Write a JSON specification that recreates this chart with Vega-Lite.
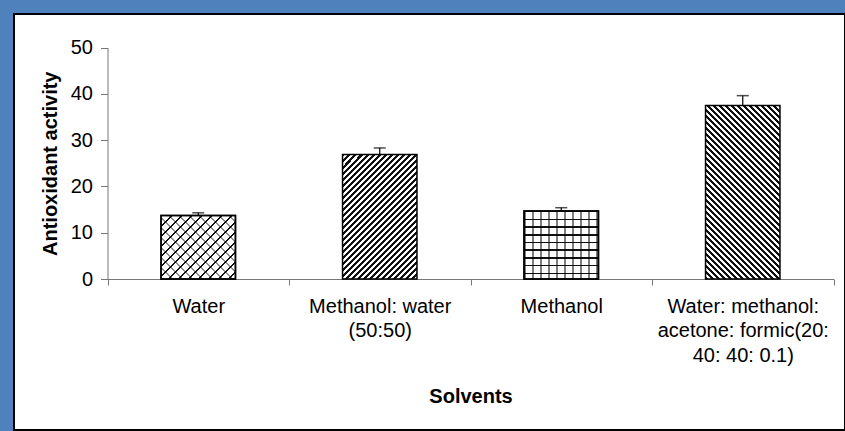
{
"$schema": "https://vega.github.io/schema/vega-lite/v6.json",
"width": 831,
"height": 416,
"autosize": {"type": "none"},
"padding": {"left": 14, "top": 14, "right": 0, "bottom": 1},
"background": "#4F81BD",
"view": {"fill": "white", "stroke": "black", "strokeWidth": 2},
"data": {"values": [
 {"solvent": "Water", "activity": 13.7, "upper": 14.3},
 {"solvent": "Methanol: water (50:50)", "activity": 26.9, "upper": 28.3},
 {"solvent": "Methanol", "activity": 14.7, "upper": 15.4},
 {"solvent": "Water: methanol: acetone: formic(20: 40: 40: 0.1)", "activity": 37.5, "upper": 39.6}
]},
"encoding": {
 "x": {"field": "solvent", "type": "nominal", "sort": null,
  "scale": {"domain": ["Water", "Methanol: water (50:50)", "Methanol", "Water: methanol: acetone: formic(20: 40: 40: 0.1)"], "range": [93.5, 819.5], "paddingInner": 0, "paddingOuter": 0},
  "axis": {"title": "Solvents", "offset": -151, "labelAngle": 0, "labelFont": "Liberation Sans", "labelFontSize": 20, "labelColor": "black", "labelLimit": 0, "labelPadding": 11, "labelLineHeight": 24.5,
   "labelExpr": "datum.value == 'Methanol: water (50:50)' ? ['Methanol: water', '(50:50)'] : (datum.value == 'Water: methanol: acetone: formic(20: 40: 40: 0.1)' ? ['Water: methanol:', 'acetone: formic(20:', '40: 40: 0.1)'] : datum.value)",
   "tickBand": "extent", "tickSize": 6, "tickColor": "#777", "domainColor": "#777", "labelOverlap": false,
   "titleFont": "Liberation Sans", "titleFontSize": 20, "titleFontWeight": "bold", "titleColor": "black", "titlePadding": 21}},
 "y": {"field": "activity", "type": "quantitative",
  "scale": {"domain": [0, 50], "nice": false, "range": [265, 33.5]},
  "axis": {"title": "Antioxidant activity", "offset": -93.5, "values": [0, 10, 20, 30, 40, 50], "grid": false,
   "labelFont": "Liberation Sans", "labelFontSize": 20, "labelColor": "black", "tickColor": "#777", "domainColor": "#777", "tickSize": 7, "labelPadding": 8,
   "titleFont": "Liberation Sans", "titleFontSize": 20, "titleFontWeight": "bold", "titleColor": "black", "titlePadding": 10}}
},
"layer": [
 {"transform": [{"filter": "datum.solvent == 'Water'"}],
  "mark": {"type": "bar", "width": {"band": 0.41}, "stroke": "black", "strokeWidth": 1.5,
   "fill": {"gradient": "linear", "x1": 0, "y1": 0, "x2": 1.2458, "y2": 1.0617, "stops": [
    {"offset":0,"color":"#111"},{"offset":0.0125,"color":"#111"},{"offset":0.0125,"color":"#fff"},{"offset":0.0625,"color":"#fff"},
    {"offset":0.0625,"color":"#111"},{"offset":0.075,"color":"#111"},{"offset":0.075,"color":"#fff"},{"offset":0.125,"color":"#fff"},
    {"offset":0.125,"color":"#111"},{"offset":0.1375,"color":"#111"},{"offset":0.1375,"color":"#fff"},{"offset":0.1875,"color":"#fff"},
    {"offset":0.1875,"color":"#111"},{"offset":0.2,"color":"#111"},{"offset":0.2,"color":"#fff"},{"offset":0.25,"color":"#fff"},
    {"offset":0.25,"color":"#111"},{"offset":0.2625,"color":"#111"},{"offset":0.2625,"color":"#fff"},{"offset":0.3125,"color":"#fff"},
    {"offset":0.3125,"color":"#111"},{"offset":0.325,"color":"#111"},{"offset":0.325,"color":"#fff"},{"offset":0.375,"color":"#fff"},
    {"offset":0.375,"color":"#111"},{"offset":0.3875,"color":"#111"},{"offset":0.3875,"color":"#fff"},{"offset":0.4375,"color":"#fff"},
    {"offset":0.4375,"color":"#111"},{"offset":0.45,"color":"#111"},{"offset":0.45,"color":"#fff"},{"offset":0.5,"color":"#fff"},
    {"offset":0.5,"color":"#111"},{"offset":0.5125,"color":"#111"},{"offset":0.5125,"color":"#fff"},{"offset":0.5625,"color":"#fff"},
    {"offset":0.5625,"color":"#111"},{"offset":0.575,"color":"#111"},{"offset":0.575,"color":"#fff"},{"offset":0.625,"color":"#fff"},
    {"offset":0.625,"color":"#111"},{"offset":0.6375,"color":"#111"},{"offset":0.6375,"color":"#fff"},{"offset":0.6875,"color":"#fff"},
    {"offset":0.6875,"color":"#111"},{"offset":0.7,"color":"#111"},{"offset":0.7,"color":"#fff"},{"offset":0.75,"color":"#fff"},
    {"offset":0.75,"color":"#111"},{"offset":0.7625,"color":"#111"},{"offset":0.7625,"color":"#fff"},{"offset":0.8125,"color":"#fff"},
    {"offset":0.8125,"color":"#111"},{"offset":0.825,"color":"#111"},{"offset":0.825,"color":"#fff"},{"offset":1,"color":"#fff"}
   ]}},
  "encoding": {}},
 {"transform": [{"filter": "datum.solvent == 'Water'"}],
  "mark": {"type": "bar", "width": {"band": 0.41}, "stroke": "black", "strokeWidth": 1.5,
   "fill": {"gradient": "linear", "x1": 0, "y1": 1, "x2": 1.2458, "y2": -0.0617, "stops": [
    {"offset":0,"color":"rgba(0,0,0,0.45)"},{"offset":0.0125,"color":"rgba(0,0,0,0.45)"},{"offset":0.0125,"color":"rgba(0,0,0,0)"},{"offset":0.0625,"color":"rgba(0,0,0,0)"},
    {"offset":0.0625,"color":"rgba(0,0,0,0.45)"},{"offset":0.075,"color":"rgba(0,0,0,0.45)"},{"offset":0.075,"color":"rgba(0,0,0,0)"},{"offset":0.125,"color":"rgba(0,0,0,0)"},
    {"offset":0.125,"color":"rgba(0,0,0,0.45)"},{"offset":0.1375,"color":"rgba(0,0,0,0.45)"},{"offset":0.1375,"color":"rgba(0,0,0,0)"},{"offset":0.1875,"color":"rgba(0,0,0,0)"},
    {"offset":0.1875,"color":"rgba(0,0,0,0.45)"},{"offset":0.2,"color":"rgba(0,0,0,0.45)"},{"offset":0.2,"color":"rgba(0,0,0,0)"},{"offset":0.25,"color":"rgba(0,0,0,0)"},
    {"offset":0.25,"color":"rgba(0,0,0,0.45)"},{"offset":0.2625,"color":"rgba(0,0,0,0.45)"},{"offset":0.2625,"color":"rgba(0,0,0,0)"},{"offset":0.3125,"color":"rgba(0,0,0,0)"},
    {"offset":0.3125,"color":"rgba(0,0,0,0.45)"},{"offset":0.325,"color":"rgba(0,0,0,0.45)"},{"offset":0.325,"color":"rgba(0,0,0,0)"},{"offset":0.375,"color":"rgba(0,0,0,0)"},
    {"offset":0.375,"color":"rgba(0,0,0,0.45)"},{"offset":0.3875,"color":"rgba(0,0,0,0.45)"},{"offset":0.3875,"color":"rgba(0,0,0,0)"},{"offset":0.4375,"color":"rgba(0,0,0,0)"},
    {"offset":0.4375,"color":"rgba(0,0,0,0.45)"},{"offset":0.45,"color":"rgba(0,0,0,0.45)"},{"offset":0.45,"color":"rgba(0,0,0,0)"},{"offset":0.5,"color":"rgba(0,0,0,0)"},
    {"offset":0.5,"color":"rgba(0,0,0,0.45)"},{"offset":0.5125,"color":"rgba(0,0,0,0.45)"},{"offset":0.5125,"color":"rgba(0,0,0,0)"},{"offset":0.5625,"color":"rgba(0,0,0,0)"},
    {"offset":0.5625,"color":"rgba(0,0,0,0.45)"},{"offset":0.575,"color":"rgba(0,0,0,0.45)"},{"offset":0.575,"color":"rgba(0,0,0,0)"},{"offset":0.625,"color":"rgba(0,0,0,0)"},
    {"offset":0.625,"color":"rgba(0,0,0,0.45)"},{"offset":0.6375,"color":"rgba(0,0,0,0.45)"},{"offset":0.6375,"color":"rgba(0,0,0,0)"},{"offset":0.6875,"color":"rgba(0,0,0,0)"},
    {"offset":0.6875,"color":"rgba(0,0,0,0.45)"},{"offset":0.7,"color":"rgba(0,0,0,0.45)"},{"offset":0.7,"color":"rgba(0,0,0,0)"},{"offset":0.75,"color":"rgba(0,0,0,0)"},
    {"offset":0.75,"color":"rgba(0,0,0,0.45)"},{"offset":0.7625,"color":"rgba(0,0,0,0.45)"},{"offset":0.7625,"color":"rgba(0,0,0,0)"},{"offset":0.8125,"color":"rgba(0,0,0,0)"},
    {"offset":0.8125,"color":"rgba(0,0,0,0.45)"},{"offset":0.825,"color":"rgba(0,0,0,0.45)"},{"offset":0.825,"color":"rgba(0,0,0,0)"},{"offset":1,"color":"rgba(0,0,0,0)"}
   ]}},
  "encoding": {}},
 {"transform": [{"filter": "datum.solvent == 'Methanol: water (50:50)'"}],
  "mark": {"type": "bar", "width": {"band": 0.41}, "stroke": "black", "strokeWidth": 1.5,
   "fill": {"gradient": "linear", "x1": 0, "y1": 0, "x2": 1.0611, "y2": 1.7756, "stops": [
    {"offset":0,"color":"#111"},
    {"offset":0.01,"color":"#111"},{"offset":0.01,"color":"#fff"},{"offset":0.02,"color":"#fff"},{"offset":0.02,"color":"#111"},
    {"offset":0.03,"color":"#111"},{"offset":0.03,"color":"#fff"},{"offset":0.04,"color":"#fff"},{"offset":0.04,"color":"#111"},
    {"offset":0.05,"color":"#111"},{"offset":0.05,"color":"#fff"},{"offset":0.06,"color":"#fff"},{"offset":0.06,"color":"#111"},
    {"offset":0.07,"color":"#111"},{"offset":0.07,"color":"#fff"},{"offset":0.08,"color":"#fff"},{"offset":0.08,"color":"#111"},
    {"offset":0.09,"color":"#111"},{"offset":0.09,"color":"#fff"},{"offset":0.1,"color":"#fff"},{"offset":0.1,"color":"#111"},
    {"offset":0.11,"color":"#111"},{"offset":0.11,"color":"#fff"},{"offset":0.12,"color":"#fff"},{"offset":0.12,"color":"#111"},
    {"offset":0.13,"color":"#111"},{"offset":0.13,"color":"#fff"},{"offset":0.14,"color":"#fff"},{"offset":0.14,"color":"#111"},
    {"offset":0.15,"color":"#111"},{"offset":0.15,"color":"#fff"},{"offset":0.16,"color":"#fff"},{"offset":0.16,"color":"#111"},
    {"offset":0.17,"color":"#111"},{"offset":0.17,"color":"#fff"},{"offset":0.18,"color":"#fff"},{"offset":0.18,"color":"#111"},
    {"offset":0.19,"color":"#111"},{"offset":0.19,"color":"#fff"},{"offset":0.2,"color":"#fff"},{"offset":0.2,"color":"#111"},
    {"offset":0.21,"color":"#111"},{"offset":0.21,"color":"#fff"},{"offset":0.22,"color":"#fff"},{"offset":0.22,"color":"#111"},
    {"offset":0.23,"color":"#111"},{"offset":0.23,"color":"#fff"},{"offset":0.24,"color":"#fff"},{"offset":0.24,"color":"#111"},
    {"offset":0.25,"color":"#111"},{"offset":0.25,"color":"#fff"},{"offset":0.26,"color":"#fff"},{"offset":0.26,"color":"#111"},
    {"offset":0.27,"color":"#111"},{"offset":0.27,"color":"#fff"},{"offset":0.28,"color":"#fff"},{"offset":0.28,"color":"#111"},
    {"offset":0.29,"color":"#111"},{"offset":0.29,"color":"#fff"},{"offset":0.3,"color":"#fff"},{"offset":0.3,"color":"#111"},
    {"offset":0.31,"color":"#111"},{"offset":0.31,"color":"#fff"},{"offset":0.32,"color":"#fff"},{"offset":0.32,"color":"#111"},
    {"offset":0.33,"color":"#111"},{"offset":0.33,"color":"#fff"},{"offset":0.34,"color":"#fff"},{"offset":0.34,"color":"#111"},
    {"offset":0.35,"color":"#111"},{"offset":0.35,"color":"#fff"},{"offset":0.36,"color":"#fff"},{"offset":0.36,"color":"#111"},
    {"offset":0.37,"color":"#111"},{"offset":0.37,"color":"#fff"},{"offset":0.38,"color":"#fff"},{"offset":0.38,"color":"#111"},
    {"offset":0.39,"color":"#111"},{"offset":0.39,"color":"#fff"},{"offset":0.4,"color":"#fff"},{"offset":0.4,"color":"#111"},
    {"offset":0.41,"color":"#111"},{"offset":0.41,"color":"#fff"},{"offset":0.42,"color":"#fff"},{"offset":0.42,"color":"#111"},
    {"offset":0.43,"color":"#111"},{"offset":0.43,"color":"#fff"},{"offset":0.44,"color":"#fff"},{"offset":0.44,"color":"#111"},
    {"offset":0.45,"color":"#111"},{"offset":0.45,"color":"#fff"},{"offset":0.46,"color":"#fff"},{"offset":0.46,"color":"#111"},
    {"offset":0.47,"color":"#111"},{"offset":0.47,"color":"#fff"},{"offset":0.48,"color":"#fff"},{"offset":0.48,"color":"#111"},
    {"offset":0.49,"color":"#111"},{"offset":0.49,"color":"#fff"},{"offset":0.5,"color":"#fff"},{"offset":0.5,"color":"#111"},
    {"offset":0.51,"color":"#111"},{"offset":0.51,"color":"#fff"},{"offset":0.52,"color":"#fff"},{"offset":0.52,"color":"#111"},
    {"offset":0.53,"color":"#111"},{"offset":0.53,"color":"#fff"},{"offset":0.54,"color":"#fff"},{"offset":0.54,"color":"#111"},
    {"offset":0.55,"color":"#111"},{"offset":0.55,"color":"#fff"},{"offset":0.56,"color":"#fff"},{"offset":0.56,"color":"#111"},
    {"offset":0.57,"color":"#111"},{"offset":0.57,"color":"#fff"},{"offset":0.58,"color":"#fff"},{"offset":0.58,"color":"#111"},
    {"offset":0.59,"color":"#111"},{"offset":0.59,"color":"#fff"},{"offset":0.6,"color":"#fff"},{"offset":0.6,"color":"#111"},
    {"offset":0.61,"color":"#111"},{"offset":0.61,"color":"#fff"},{"offset":0.62,"color":"#fff"},{"offset":0.62,"color":"#111"},
    {"offset":0.63,"color":"#111"},{"offset":0.63,"color":"#fff"},{"offset":0.64,"color":"#fff"},{"offset":0.64,"color":"#111"},
    {"offset":0.65,"color":"#111"},{"offset":0.65,"color":"#fff"},{"offset":0.66,"color":"#fff"},{"offset":0.66,"color":"#111"},
    {"offset":0.67,"color":"#111"},{"offset":0.67,"color":"#fff"},{"offset":0.68,"color":"#fff"},{"offset":0.68,"color":"#111"},
    {"offset":0.69,"color":"#111"},{"offset":0.69,"color":"#fff"},{"offset":1,"color":"#fff"}
   ]}},
  "encoding": {}},
 {"transform": [{"filter": "datum.solvent == 'Methanol'"}],
  "mark": {"type": "bar", "width": {"band": 0.41}, "stroke": "black", "strokeWidth": 1.5,
   "fill": {"gradient": "linear", "x1": 0, "y1": 0, "x2": 0, "y2": 1.1307, "stops": [
    {"offset":0,"color":"#111"},{"offset":0.02,"color":"#111"},{"offset":0.02,"color":"#fff"},{"offset":0.1,"color":"#fff"},
    {"offset":0.1,"color":"#111"},{"offset":0.12,"color":"#111"},{"offset":0.12,"color":"#fff"},{"offset":0.2,"color":"#fff"},
    {"offset":0.2,"color":"#111"},{"offset":0.22,"color":"#111"},{"offset":0.22,"color":"#fff"},{"offset":0.3,"color":"#fff"},
    {"offset":0.3,"color":"#111"},{"offset":0.32,"color":"#111"},{"offset":0.32,"color":"#fff"},{"offset":0.4,"color":"#fff"},
    {"offset":0.4,"color":"#111"},{"offset":0.42,"color":"#111"},{"offset":0.42,"color":"#fff"},{"offset":0.5,"color":"#fff"},
    {"offset":0.5,"color":"#111"},{"offset":0.52,"color":"#111"},{"offset":0.52,"color":"#fff"},{"offset":0.6,"color":"#fff"},
    {"offset":0.6,"color":"#111"},{"offset":0.62,"color":"#111"},{"offset":0.62,"color":"#fff"},{"offset":0.7,"color":"#fff"},
    {"offset":0.7,"color":"#111"},{"offset":0.72,"color":"#111"},{"offset":0.72,"color":"#fff"},{"offset":0.8,"color":"#fff"},
    {"offset":0.8,"color":"#111"},{"offset":0.82,"color":"#111"},{"offset":0.82,"color":"#fff"},{"offset":1,"color":"#fff"}
   ]}},
  "encoding": {}},
 {"transform": [{"filter": "datum.solvent == 'Methanol'"}],
  "mark": {"type": "bar", "width": {"band": 0.41}, "stroke": "black", "strokeWidth": 1.5,
   "fill": {"gradient": "linear", "x1": 0, "y1": 0, "x2": 1.0753, "y2": 0, "stops": [
    {"offset":0,"color":"rgba(0,0,0,0.5)"},{"offset":0.02,"color":"rgba(0,0,0,0.5)"},{"offset":0.02,"color":"rgba(0,0,0,0)"},{"offset":0.1,"color":"rgba(0,0,0,0)"},
    {"offset":0.1,"color":"rgba(0,0,0,0.5)"},{"offset":0.12,"color":"rgba(0,0,0,0.5)"},{"offset":0.12,"color":"rgba(0,0,0,0)"},{"offset":0.2,"color":"rgba(0,0,0,0)"},
    {"offset":0.2,"color":"rgba(0,0,0,0.5)"},{"offset":0.22,"color":"rgba(0,0,0,0.5)"},{"offset":0.22,"color":"rgba(0,0,0,0)"},{"offset":0.3,"color":"rgba(0,0,0,0)"},
    {"offset":0.3,"color":"rgba(0,0,0,0.5)"},{"offset":0.32,"color":"rgba(0,0,0,0.5)"},{"offset":0.32,"color":"rgba(0,0,0,0)"},{"offset":0.4,"color":"rgba(0,0,0,0)"},
    {"offset":0.4,"color":"rgba(0,0,0,0.5)"},{"offset":0.42,"color":"rgba(0,0,0,0.5)"},{"offset":0.42,"color":"rgba(0,0,0,0)"},{"offset":0.5,"color":"rgba(0,0,0,0)"},
    {"offset":0.5,"color":"rgba(0,0,0,0.5)"},{"offset":0.52,"color":"rgba(0,0,0,0.5)"},{"offset":0.52,"color":"rgba(0,0,0,0)"},{"offset":0.6,"color":"rgba(0,0,0,0)"},
    {"offset":0.6,"color":"rgba(0,0,0,0.5)"},{"offset":0.62,"color":"rgba(0,0,0,0.5)"},{"offset":0.62,"color":"rgba(0,0,0,0)"},{"offset":0.7,"color":"rgba(0,0,0,0)"},
    {"offset":0.7,"color":"rgba(0,0,0,0.5)"},{"offset":0.72,"color":"rgba(0,0,0,0.5)"},{"offset":0.72,"color":"rgba(0,0,0,0)"},{"offset":0.8,"color":"rgba(0,0,0,0)"},
    {"offset":0.8,"color":"rgba(0,0,0,0.5)"},{"offset":0.82,"color":"rgba(0,0,0,0.5)"},{"offset":0.82,"color":"rgba(0,0,0,0)"},{"offset":0.9,"color":"rgba(0,0,0,0)"},
    {"offset":0.9,"color":"rgba(0,0,0,0.5)"},{"offset":0.92,"color":"rgba(0,0,0,0.5)"},{"offset":0.92,"color":"rgba(0,0,0,0)"},{"offset":1,"color":"rgba(0,0,0,0)"}
   ]}},
  "encoding": {}},
 {"transform": [{"filter": "datum.solvent == 'Water: methanol: acetone: formic(20: 40: 40: 0.1)'"}],
  "mark": {"type": "bar", "width": {"band": 0.41}, "stroke": "black", "strokeWidth": 1.5,
   "fill": {"gradient": "linear", "x1": 0, "y1": 1, "x2": 0.6257, "y2": -0.46, "stops": [
    {"offset":0,"color":"#111"},
    {"offset":0.01,"color":"#111"},{"offset":0.01,"color":"#fff"},{"offset":0.02,"color":"#fff"},{"offset":0.02,"color":"#111"},
    {"offset":0.03,"color":"#111"},{"offset":0.03,"color":"#fff"},{"offset":0.04,"color":"#fff"},{"offset":0.04,"color":"#111"},
    {"offset":0.05,"color":"#111"},{"offset":0.05,"color":"#fff"},{"offset":0.06,"color":"#fff"},{"offset":0.06,"color":"#111"},
    {"offset":0.07,"color":"#111"},{"offset":0.07,"color":"#fff"},{"offset":0.08,"color":"#fff"},{"offset":0.08,"color":"#111"},
    {"offset":0.09,"color":"#111"},{"offset":0.09,"color":"#fff"},{"offset":0.1,"color":"#fff"},{"offset":0.1,"color":"#111"},
    {"offset":0.11,"color":"#111"},{"offset":0.11,"color":"#fff"},{"offset":0.12,"color":"#fff"},{"offset":0.12,"color":"#111"},
    {"offset":0.13,"color":"#111"},{"offset":0.13,"color":"#fff"},{"offset":0.14,"color":"#fff"},{"offset":0.14,"color":"#111"},
    {"offset":0.15,"color":"#111"},{"offset":0.15,"color":"#fff"},{"offset":0.16,"color":"#fff"},{"offset":0.16,"color":"#111"},
    {"offset":0.17,"color":"#111"},{"offset":0.17,"color":"#fff"},{"offset":0.18,"color":"#fff"},{"offset":0.18,"color":"#111"},
    {"offset":0.19,"color":"#111"},{"offset":0.19,"color":"#fff"},{"offset":0.2,"color":"#fff"},{"offset":0.2,"color":"#111"},
    {"offset":0.21,"color":"#111"},{"offset":0.21,"color":"#fff"},{"offset":0.22,"color":"#fff"},{"offset":0.22,"color":"#111"},
    {"offset":0.23,"color":"#111"},{"offset":0.23,"color":"#fff"},{"offset":0.24,"color":"#fff"},{"offset":0.24,"color":"#111"},
    {"offset":0.25,"color":"#111"},{"offset":0.25,"color":"#fff"},{"offset":0.26,"color":"#fff"},{"offset":0.26,"color":"#111"},
    {"offset":0.27,"color":"#111"},{"offset":0.27,"color":"#fff"},{"offset":0.28,"color":"#fff"},{"offset":0.28,"color":"#111"},
    {"offset":0.29,"color":"#111"},{"offset":0.29,"color":"#fff"},{"offset":0.3,"color":"#fff"},{"offset":0.3,"color":"#111"},
    {"offset":0.31,"color":"#111"},{"offset":0.31,"color":"#fff"},{"offset":0.32,"color":"#fff"},{"offset":0.32,"color":"#111"},
    {"offset":0.33,"color":"#111"},{"offset":0.33,"color":"#fff"},{"offset":0.34,"color":"#fff"},{"offset":0.34,"color":"#111"},
    {"offset":0.35,"color":"#111"},{"offset":0.35,"color":"#fff"},{"offset":0.36,"color":"#fff"},{"offset":0.36,"color":"#111"},
    {"offset":0.37,"color":"#111"},{"offset":0.37,"color":"#fff"},{"offset":0.38,"color":"#fff"},{"offset":0.38,"color":"#111"},
    {"offset":0.39,"color":"#111"},{"offset":0.39,"color":"#fff"},{"offset":0.4,"color":"#fff"},{"offset":0.4,"color":"#111"},
    {"offset":0.41,"color":"#111"},{"offset":0.41,"color":"#fff"},{"offset":0.42,"color":"#fff"},{"offset":0.42,"color":"#111"},
    {"offset":0.43,"color":"#111"},{"offset":0.43,"color":"#fff"},{"offset":0.44,"color":"#fff"},{"offset":0.44,"color":"#111"},
    {"offset":0.45,"color":"#111"},{"offset":0.45,"color":"#fff"},{"offset":0.46,"color":"#fff"},{"offset":0.46,"color":"#111"},
    {"offset":0.47,"color":"#111"},{"offset":0.47,"color":"#fff"},{"offset":0.48,"color":"#fff"},{"offset":0.48,"color":"#111"},
    {"offset":0.49,"color":"#111"},{"offset":0.49,"color":"#fff"},{"offset":0.5,"color":"#fff"},{"offset":0.5,"color":"#111"},
    {"offset":0.51,"color":"#111"},{"offset":0.51,"color":"#fff"},{"offset":0.52,"color":"#fff"},{"offset":0.52,"color":"#111"},
    {"offset":0.53,"color":"#111"},{"offset":0.53,"color":"#fff"},{"offset":0.54,"color":"#fff"},{"offset":0.54,"color":"#111"},
    {"offset":0.55,"color":"#111"},{"offset":0.55,"color":"#fff"},{"offset":0.56,"color":"#fff"},{"offset":0.56,"color":"#111"},
    {"offset":0.57,"color":"#111"},{"offset":0.57,"color":"#fff"},{"offset":0.58,"color":"#fff"},{"offset":0.58,"color":"#111"},
    {"offset":0.59,"color":"#111"},{"offset":0.59,"color":"#fff"},{"offset":0.6,"color":"#fff"},{"offset":0.6,"color":"#111"},
    {"offset":0.61,"color":"#111"},{"offset":0.61,"color":"#fff"},{"offset":0.62,"color":"#fff"},{"offset":0.62,"color":"#111"},
    {"offset":0.63,"color":"#111"},{"offset":0.63,"color":"#fff"},{"offset":0.64,"color":"#fff"},{"offset":0.64,"color":"#111"},
    {"offset":0.65,"color":"#111"},{"offset":0.65,"color":"#fff"},{"offset":0.66,"color":"#fff"},{"offset":0.66,"color":"#111"},
    {"offset":0.67,"color":"#111"},{"offset":0.67,"color":"#fff"},{"offset":0.68,"color":"#fff"},{"offset":0.68,"color":"#111"},
    {"offset":0.69,"color":"#111"},{"offset":0.69,"color":"#fff"},{"offset":0.7,"color":"#fff"},{"offset":0.7,"color":"#111"},
    {"offset":0.71,"color":"#111"},{"offset":0.71,"color":"#fff"},{"offset":0.72,"color":"#fff"},{"offset":0.72,"color":"#111"},
    {"offset":0.73,"color":"#111"},{"offset":0.73,"color":"#fff"},{"offset":0.74,"color":"#fff"},{"offset":0.74,"color":"#111"},
    {"offset":0.75,"color":"#111"},{"offset":0.75,"color":"#fff"},{"offset":0.76,"color":"#fff"},{"offset":0.76,"color":"#111"},
    {"offset":0.77,"color":"#111"},{"offset":0.77,"color":"#fff"},{"offset":0.78,"color":"#fff"},{"offset":0.78,"color":"#111"},
    {"offset":0.79,"color":"#111"},{"offset":0.79,"color":"#fff"},{"offset":0.8,"color":"#fff"},{"offset":0.8,"color":"#111"},
    {"offset":0.81,"color":"#111"},{"offset":0.81,"color":"#fff"},{"offset":0.82,"color":"#fff"},{"offset":0.82,"color":"#111"},
    {"offset":0.83,"color":"#111"},{"offset":0.83,"color":"#fff"},{"offset":0.84,"color":"#fff"},{"offset":0.84,"color":"#111"},
    {"offset":0.85,"color":"#111"},{"offset":0.85,"color":"#fff"},{"offset":1,"color":"#fff"}
   ]}},
  "encoding": {}},
 {"mark": {"type": "rule", "color": "black", "strokeWidth": 1.2},
  "encoding": {"y2": {"field": "upper"}}},
 {"mark": {"type": "tick", "orient": "horizontal", "size": 12, "thickness": 1.5, "color": "black"},
  "encoding": {"y": {"field": "upper", "type": "quantitative"}}}
]
}
